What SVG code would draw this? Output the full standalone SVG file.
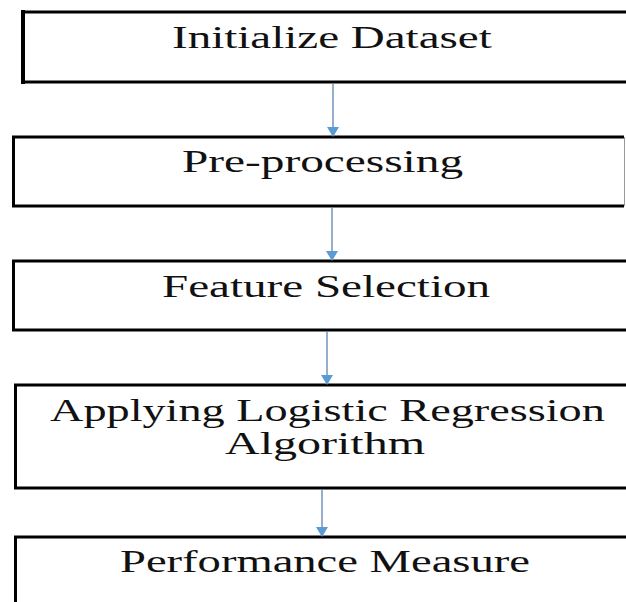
<svg xmlns="http://www.w3.org/2000/svg" width="626" height="602" viewBox="0 0 626 602">
<style>
.box{fill:#fff;stroke:#000;stroke-width:3}
.lbl{font-family:"Liberation Serif","Times New Roman",serif;font-size:32px;fill:#111}
.conn{stroke:#7a9cc2;stroke-width:1.6;fill:none}
</style>
<defs>
<marker id="ah" markerWidth="10" markerHeight="12" refX="8" refY="6" orient="auto" markerUnits="userSpaceOnUse" viewBox="0 0 10 12">
<path d="M0,0 L10,6 L0,12 Z" fill="#5b9bd5"/>
</marker>
</defs>
<rect width="626" height="602" fill="#fff"/>
<g id="node1">
<rect class="box" x="23" y="12" width="620" height="70"/>
<path d="M23,10 V84" stroke="#000" stroke-width="4"/>
<text class="lbl" transform="translate(172,48) scale(1.46,1)" textLength="219" lengthAdjust="spacingAndGlyphs">Initialize Dataset</text>
</g>
<g id="node2">
<path d="M624,137 H13.5 V206 H624" fill="#fff" stroke="#000" stroke-width="3"/>
<path d="M624.5,137 V206" stroke="#999" stroke-width="1"/>
<text class="lbl" transform="translate(182,172) scale(1.46,1)" textLength="192.5" lengthAdjust="spacingAndGlyphs">Pre-processing</text>
</g>
<g id="node3">
<rect class="box" x="13.5" y="261" width="630" height="69"/>
<text class="lbl" transform="translate(162,297) scale(1.46,1)" textLength="224.7" lengthAdjust="spacingAndGlyphs">Feature Selection</text>
</g>
<g id="node4">
<rect class="box" x="15.5" y="385" width="630" height="103"/>
<text class="lbl" transform="translate(50,421) scale(1.46,1)" textLength="380" lengthAdjust="spacingAndGlyphs">Applying Logistic Regression</text>
<text class="lbl" transform="translate(225,454) scale(1.46,1)" textLength="137" lengthAdjust="spacingAndGlyphs">Algorithm</text>
</g>
<g id="node5">
<rect class="box" x="15.5" y="537" width="630" height="80"/>
<text class="lbl" transform="translate(120,572) scale(1.46,1)" textLength="280.8" lengthAdjust="spacingAndGlyphs">Performance Measure</text>
</g>
<g id="connectors">
<line class="conn" x1="333" y1="84" x2="333" y2="135" marker-end="url(#ah)"/>
<line class="conn" x1="332" y1="208" x2="332" y2="259" marker-end="url(#ah)"/>
<line class="conn" x1="327" y1="332" x2="327" y2="383" marker-end="url(#ah)"/>
<line class="conn" x1="322" y1="490" x2="322" y2="535" marker-end="url(#ah)"/>
</g>
</svg>
